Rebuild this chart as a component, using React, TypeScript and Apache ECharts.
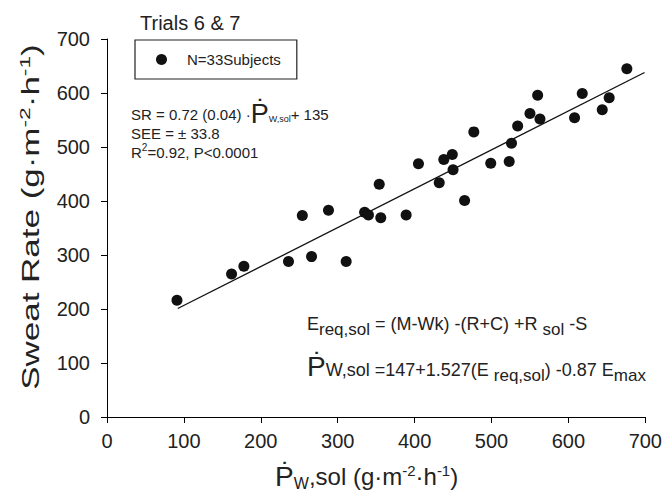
import React, { useEffect, useRef } from "react";
import * as echarts from "echarts";

// Predicted sweat rate (x) vs measured sweat rate (y), g·m-2·h-1
const pwSol = [91, 162, 178, 236, 254, 266, 288, 311, 335, 340, 354, 356, 389, 405, 432, 438, 449, 450, 465, 477, 499, 523, 526, 534, 550, 560, 563, 608, 618, 644, 653, 676];
const sweatRate = [216, 265, 279, 288, 373, 297, 383, 288, 379, 374, 431, 369, 374, 469, 434, 477, 486, 458, 401, 528, 470, 473, 507, 539, 562, 596, 552, 554, 599, 569, 591, 645];
// Regression line end points (SR = 0.72·P + 135)
const fitX = [92, 699];
const fitY = [201, 638];
const legendName = "N=33Subjects";

const FONT = "'Liberation Sans', Arial, Helvetica, sans-serif";
const TXT = "#222";

export default function App() {
  const ref = useRef<HTMLDivElement>(null);
  useEffect(() => {
    if (!ref.current) return;
    const chart = echarts.init(ref.current, null, { renderer: "svg" });
    const rt = (o: any) => ({ fill: TXT, fontFamily: FONT, ...o });
    const option: any = {
      animation: false,
      backgroundColor: "#fff",
      textStyle: { fontFamily: FONT },
      grid: { left: 107, right: 17, top: 39, bottom: 85 },
      legend: {
        data: [legendName],
        left: 135,
        top: 40,
        icon: "circle",
        itemWidth: 11,
        itemHeight: 11,
        borderColor: "#222",
        borderWidth: 1.2,
        borderRadius: 0,
        padding: [12, 16, 12, 21],
        textStyle: { fontSize: 15, color: TXT, fontFamily: FONT, padding: [0, 0, 0, 15] },
      },
      xAxis: {
        type: "value",
        min: 0,
        max: 700,
        interval: 100,
        axisLine: { show: true, lineStyle: { color: "#000", width: 1 } },
        axisTick: { show: true, length: 6, lineStyle: { color: "#000" } },
        axisLabel: { fontSize: 20, color: TXT, margin: 14, fontFamily: FONT },
        splitLine: { show: false },
        name: "{P|Ṗ}{sub|W},sol (g·m{sup|-2}·h{sup|-1})",
        nameLocation: "middle",
        nameGap: 45,
        nameTextStyle: {
          fontSize: 24,
          color: TXT,
          fontFamily: FONT,
          padding: [0, 19, 0, 0],
          rich: {
            P: { fontSize: 28, color: TXT, fontFamily: FONT },
            sub: { fontSize: 16, color: TXT, fontFamily: FONT, padding: [13, 0, 0, 0] },
            sup: { fontSize: 15, color: TXT, fontFamily: FONT, padding: [0, 0, 13, 0] },
          },
        },
      },
      yAxis: {
        type: "value",
        min: 0,
        max: 700,
        interval: 100,
        axisLine: { show: true, lineStyle: { color: "#000", width: 1 } },
        axisTick: { show: true, length: 6, lineStyle: { color: "#000" } },
        axisLabel: { fontSize: 20, color: TXT, margin: 17, fontFamily: FONT },
        splitLine: { show: false },
      },
      series: [
        {
          type: "scatter",
          name: legendName,
          data: pwSol.map((x, i) => [x, sweatRate[i]]),
          symbol: "circle",
          symbolSize: 11,
          itemStyle: { color: "#111", opacity: 1 },
          z: 3,
        },
        {
          type: "line",
          name: "fit",
          data: fitX.map((x, i) => [x, fitY[i]]),
          symbol: "none",
          lineStyle: { color: "#111", width: 1.3 },
          silent: true,
          z: 2,
        },
      ],
      graphic: [
        {
          type: "text",
          x: 31,
          y: 217,
          rotation: Math.PI / 2,
          scaleX: 1.52,
          style: {
            text: "Sweat Rate (g·m{sup|-2}·h{sup|-1})",
            fontSize: 23,
            fontFamily: FONT,
            fill: TXT,
            align: "center",
            verticalAlign: "middle",
            rich: { sup: rt({ fontSize: 15, padding: [0, 0, 13, 0] }) },
          },
        },
        {
          type: "text",
          x: 140,
          y: 23,
          style: { text: "Trials 6 & 7", fontSize: 20, fontFamily: FONT, fill: TXT, verticalAlign: "middle" },
        },
        {
          type: "text",
          x: 131,
          y: 114,
          style: {
            text: "SR = 0.72 (0.04) ·{P|Ṗ}{sub|W,sol}+ 135",
            fontSize: 15,
            fontFamily: FONT,
            fill: TXT,
            verticalAlign: "middle",
            rich: {
              P: rt({ fontSize: 27 }),
              sub: rt({ fontSize: 9, padding: [10, 0, 0, 0] }),
            },
          },
        },
        {
          type: "text",
          x: 131,
          y: 133,
          style: { text: "SEE = ± 33.8", fontSize: 15, fontFamily: FONT, fill: TXT, verticalAlign: "middle" },
        },
        {
          type: "text",
          x: 131,
          y: 152,
          style: {
            text: "R{sup|2}=0.92, P<0.0001",
            fontSize: 15,
            fontFamily: FONT,
            fill: TXT,
            verticalAlign: "middle",
            rich: { sup: rt({ fontSize: 10, padding: [0, 0, 10, 0] }) },
          },
        },
        {
          type: "text",
          x: 307,
          y: 324,
          style: {
            text: "E{sub|req,sol} = (M-Wk) -(R+C) +R {sub|sol} -S",
            fontSize: 18,
            fontFamily: FONT,
            fill: TXT,
            verticalAlign: "middle",
            rich: { sub: rt({ fontSize: 17, padding: [11, 0, 0, 0] }) },
          },
        },
        {
          type: "text",
          x: 307,
          y: 370,
          style: {
            text: "{P|Ṗ}W,sol =147+1.527(E {sub|req,sol}) -0.87 E{sub|max}",
            fontSize: 18,
            fontFamily: FONT,
            fill: TXT,
            verticalAlign: "middle",
            rich: {
              P: rt({ fontSize: 28, padding: [0, 0, 7, 0] }),
              sub: rt({ fontSize: 17, padding: [11, 0, 0, 0] }),
            },
          },
        },
      ],
    };
    chart.setOption(option);
    return () => chart.dispose();
  }, []);
  return (
    <div
      ref={ref}
      style={{ position: "fixed", left: 0, top: 0, width: 665, height: 502, background: "#fff" }}
    />
  );
}
